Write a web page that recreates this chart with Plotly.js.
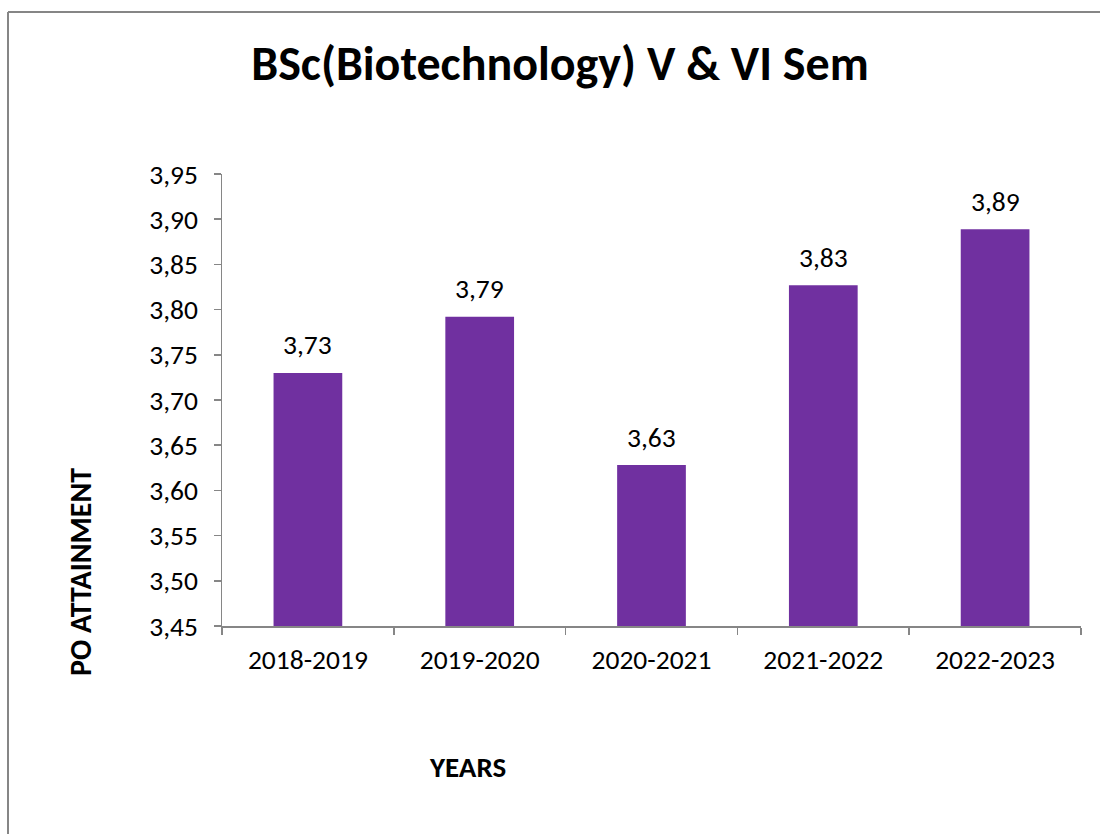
<!DOCTYPE html>
<html>
<head>
<meta charset="utf-8">
<script src="https://cdn.plot.ly/plotly-3.0.1.min.js"></script>
<style>body{margin:0;background:#fff}#chart{width:1100px;height:834px}</style>
</head>
<body>
<div id="chart"></div>
<script>
const categories = ["2018-2019", "2019-2020", "2020-2021", "2021-2022", "2022-2023"];
const values = [3.73, 3.792, 3.628, 3.827, 3.889];
const yTicks = [3.45, 3.50, 3.55, 3.60, 3.65, 3.70, 3.75, 3.80, 3.85, 3.90, 3.95];

const FONT = "Carlito, Calibri, 'Open Sans', sans-serif";

const trace = {
  type: "bar",
  x: categories,
  y: values,
  marker: { color: "#7030A0" },
  hoverinfo: "skip"
};

const annotations = categories.map((c, i) => ({
  x: c, y: values[i], xref: "x", yref: "y",
  text: values[i].toFixed(2).replace(".", ","),
  showarrow: false, yanchor: "middle", yshift: 28,
  font: { family: FONT, size: 27.5, color: "#000" }
}));
annotations.push({
  xref: "paper", yref: "paper", x: (467 - 222) / 859, y: (626 - 767) / 452,
  text: "<b>YEARS</b>", showarrow: false, xanchor: "center", yanchor: "middle",
  font: { family: FONT, size: 29, color: "#000" }
});
annotations.push({
  xref: "paper", yref: "paper", x: (80 - 222) / 859, y: (626 - 572) / 452,
  text: "<b>PO ATTAINMENT</b>", showarrow: false, textangle: -90, xanchor: "center", yanchor: "middle",
  font: { family: FONT, size: 30, color: "#000" }
});

const layout = {
  width: 1100, height: 834,
  margin: { l: 222, r: 19, t: 174, b: 208 },
  paper_bgcolor: "#fff", plot_bgcolor: "#fff",
  separators: ",.",
  bargap: 0.6,
  showlegend: false,
  title: {
    text: "<b>BSc(Biotechnology) V &amp; VI Sem</b>",
    x: (560) / 1100, xanchor: "center", y: 1 - 63 / 834, yanchor: "middle",
    font: { family: FONT, size: 48, color: "#000" }
  },
  xaxis: {
    type: "category",
    showline: true, linecolor: "#868686", linewidth: 1.5,
    ticks: "outside", tickson: "boundaries", ticklen: 7, tickcolor: "#868686", tickwidth: 1.5,
    showgrid: false, zeroline: false,
    ticklabelstandoff: 8,
    tickfont: { family: FONT, size: 27.5, color: "#000" }
  },
  yaxis: {
    range: [3.45, 3.95],
    tickvals: yTicks,
    tickformat: ".2f",
    showline: true, linecolor: "#868686", linewidth: 1.5,
    ticks: "outside", ticklen: 7, tickcolor: "#868686", tickwidth: 1.5,
    showgrid: false, zeroline: false,
    ticklabelstandoff: 10,
    tickfont: { family: FONT, size: 27.5, color: "#000" }
  },
  annotations: annotations,
  shapes: [
    { type: "line", xref: "paper", yref: "paper", x0: (8 - 222) / 859, x1: (8 - 222) / 859, y0: (626 - 12) / 452, y1: (626 - 850) / 452, line: { color: "#868686", width: 2 } },
    { type: "line", xref: "paper", yref: "paper", x0: (8 - 222) / 859, x1: (1110 - 222) / 859, y0: (626 - 12) / 452, y1: (626 - 12) / 452, line: { color: "#868686", width: 2 } }
  ]
};

Plotly.newPlot("chart", [trace], layout, { displayModeBar: false, staticPlot: true });
</script>
</body>
</html>
